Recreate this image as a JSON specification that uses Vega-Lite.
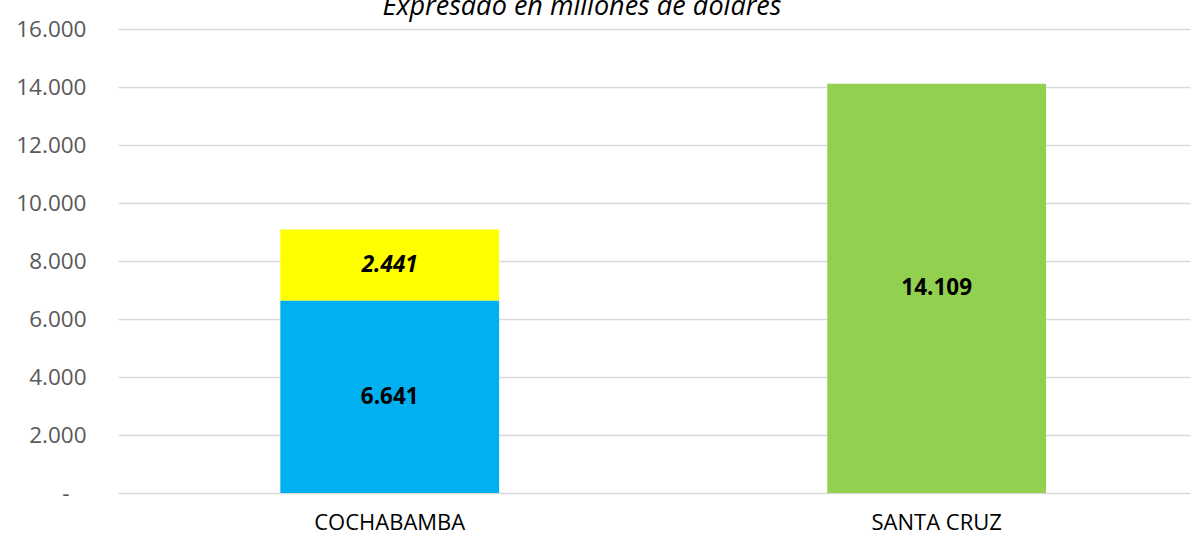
{
  "$schema": "https://vega.github.io/schema/vega-lite/v6.json",
  "width": 1072,
  "height": 464,
  "autosize": {"type": "none"},
  "padding": {"left": 118, "top": 29, "right": 7, "bottom": 45},
  "background": "white",
  "config": {
    "locale": {"number": {"decimal": ",", "thousands": ".", "grouping": [3], "currency": ["", ""]}},
    "view": {"stroke": null},
    "font": "Open Sans"
  },
  "title": {
    "text": "Expresado en millones de dólares",
    "fontStyle": "italic",
    "fontWeight": "normal",
    "fontSize": 27,
    "color": "#000000",
    "font": "Open Sans",
    "offset": 3,
    "dy": 6,
    "dx": -72
  },
  "data": {
    "values": [
      {"region": "COCHABAMBA", "segment": "A", "value": 6641},
      {"region": "COCHABAMBA", "segment": "B", "value": 2441},
      {"region": "SANTA CRUZ", "segment": "C", "value": 14109}
    ]
  },
  "encoding": {
    "x": {
      "field": "region",
      "type": "nominal",
      "sort": null,
      "scale": {"paddingInner": 0.6, "paddingOuter": 0.28, "align": 0.53},
      "axis": {
        "title": null,
        "labelAngle": 0,
        "labelFontSize": 22,
        "labelColor": "#000000",
        "labelPadding": 19,
        "ticks": false,
        "domain": false,
        "grid": false
      }
    }
  },
  "layer": [
    {
      "mark": {"type": "bar"},
      "encoding": {
        "y": {
          "field": "value",
          "type": "quantitative",
          "stack": "zero",
          "scale": {"domain": [0, 16000]},
          "axis": {
            "title": null,
            "values": [0, 2000, 4000, 6000, 8000, 10000, 12000, 14000, 16000],
            "format": ",.0f",
            "labelExpr": "datum.value == 0 ? '-\u2800' : datum.label",
            "labelFontSize": 22.5,
            "labelColor": "#595959",
            "labelPadding": 32,
            "ticks": false,
            "domain": false,
            "gridColor": "#d9d9d9",
            "gridWidth": 1.3
          }
        },
        "color": {
          "field": "segment",
          "type": "nominal",
          "scale": {"domain": ["A", "B", "C"], "range": ["#00B0F0", "#FFFF00", "#92D050"]},
          "legend": null
        },
        "order": {"field": "segment", "sort": "ascending"}
      }
    },
    {
      "transform": [
        {"stack": "value", "groupby": ["region"], "sort": [{"field": "segment", "order": "ascending"}], "as": ["v0", "v1"]},
        {"fold": ["v0", "v1"], "as": ["edge", "pos"]},
        {"aggregate": [{"op": "mean", "field": "pos", "as": "mid"}], "groupby": ["region", "segment", "value"]},
        {"filter": "datum.segment != 'B'"}
      ],
      "mark": {"type": "text", "fontWeight": "bold", "fontSize": 22.5, "color": "#000000", "baseline": "middle"},
      "encoding": {
        "y": {"field": "mid", "type": "quantitative"},
        "text": {"field": "value", "type": "quantitative", "format": ",.0f"}
      }
    },
    {
      "transform": [
        {"stack": "value", "groupby": ["region"], "sort": [{"field": "segment", "order": "ascending"}], "as": ["v0", "v1"]},
        {"fold": ["v0", "v1"], "as": ["edge", "pos"]},
        {"aggregate": [{"op": "mean", "field": "pos", "as": "mid"}], "groupby": ["region", "segment", "value"]},
        {"filter": "datum.segment == 'B'"}
      ],
      "mark": {"type": "text", "fontWeight": "bold", "fontStyle": "italic", "fontSize": 22.5, "color": "#000000", "baseline": "middle"},
      "encoding": {
        "y": {"field": "mid", "type": "quantitative"},
        "text": {"field": "value", "type": "quantitative", "format": ",.0f"}
      }
    }
  ]
}
